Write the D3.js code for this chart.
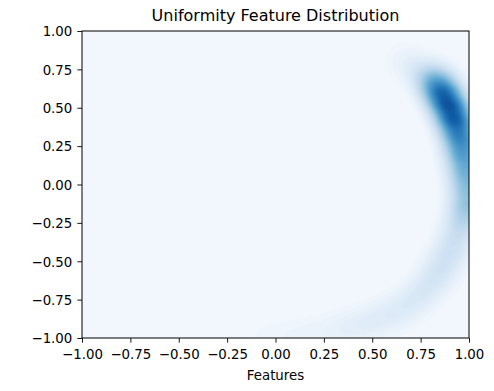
<!DOCTYPE html>
<html>
<head>
<meta charset="utf-8">
<script src="https://cdn.jsdelivr.net/npm/d3@7"></script>
<style>
  body { margin: 0; background: #fff; }
  text { font-family: "DejaVu Sans", sans-serif; fill: #000; }
</style>
</head>
<body>
<div id="chart"></div>
<script>

////////// DATA //////////

// feature points along the arc (x, y) and how much weight sits at each
var featureX = [0.669, 0.773, 0.835, 0.876, 0.912, 0.943, 0.969, 0.990, 1.000, 0.980,
                0.953, 0.920, 0.876, 0.830, 0.773, 0.710, 0.643, 0.570, 0.488, 0.410,
                0.333, 0.230, 0.127, 0.020, -0.080];
var featureY = [0.798, 0.713, 0.648, 0.570, 0.472, 0.368, 0.225, 0.062, -0.100, -0.200,
                -0.296, -0.400, -0.505, -0.600, -0.687, -0.760, -0.818, -0.860, -0.896, -0.925,
                -0.948, -0.970, -0.987, -0.995, -1.000];
var featureWeight = [1.5, 3.5, 10, 12, 13, 13, 13, 11, 7.5, 4.5,
                     3, 3, 3, 2.5, 2.2, 1.8, 1.6, 1.5, 1.4, 1.2,
                     1.1, 0.9, 0.8, 0.6, 0.4];

var xTicks = [-1, -0.75, -0.5, -0.25, 0, 0.25, 0.5, 0.75, 1];
var yTicks = [-1, -0.75, -0.5, -0.25, 0, 0.25, 0.5, 0.75, 1];

var titleText = "Uniformity Feature Distribution";
var xLabel = "Features";


////////// SETUP //////////

var width = 494, height = 391;
var margin = {top: 31, right: 25, bottom: 53, left: 82};
var plotW = width - margin.left - margin.right;
var plotH = height - margin.top - margin.bottom;

var x = d3.scaleLinear().domain([-1, 1]).range([0, plotW]);
var y = d3.scaleLinear().domain([-1, 1]).range([plotH, 0]);

var svg = d3.select("#chart")
  .append("svg")
  .attr("width", width)
  .attr("height", height);

var g = svg.append("g")
  .attr("transform", "translate(" + margin.left + "," + margin.top + ")");

g.append("clipPath")
  .attr("id", "plot-clip")
  .append("rect")
  .attr("width", plotW)
  .attr("height", plotH);


////////// DENSITY //////////

// density is estimated on its own grid; y gets fewer grid units per data unit
// so the kernel is a bit taller than wide, like the reference's
var gridX = 200, gridY = 160;
var points = featureX.map(function(fx, i) {
  return {gx: (fx + 1) * gridX, gy: (1 - featureY[i]) * gridY, w: featureWeight[i]};
});

var density = d3.contourDensity()
  .x(function(d) { return d.gx; })
  .y(function(d) { return d.gy; })
  .weight(function(d) { return d.w; })
  .size([2 * gridX, 2 * gridY])
  .cellSize(2)
  .bandwidth(12);

var contourAt = density.contours(points);
var nLevels = 50;
var levels = d3.range(1, nLevels).map(function(i) { return contourAt.max * i / nLevels; });

var toPixels = d3.geoTransform({
  point: function(px, py) {
    this.stream.point(x(px / gridX - 1), y(1 - py / gridY));
  }
});
var path = d3.geoPath(toPixels);

var colour = function(i) { return d3.interpolateBlues(0.03 + 0.85 * i / nLevels); };

var kde = g.append("g").attr("clip-path", "url(#plot-clip)");

kde.append("rect")
  .attr("width", plotW)
  .attr("height", plotH)
  .attr("fill", colour(0));

kde.selectAll("path")
  .data(levels)
  .enter()
  .append("path")
  .attr("d", function(v) { return path(contourAt(v)); })
  .attr("fill", function(v, i) { return colour(i + 1); })
  .attr("stroke", function(v, i) { return colour(i + 1); })
  .attr("stroke-width", 0.3);


////////// AXES //////////

var fmt = d3.format(".2f");

var xAxis = g.append("g")
  .attr("transform", "translate(0," + plotH + ")")
  .call(d3.axisBottom(x).tickValues(xTicks).tickFormat(fmt).tickSize(4.7).tickPadding(5).tickSizeOuter(0));

var yAxis = g.append("g")
  .call(d3.axisLeft(y).tickValues(yTicks).tickFormat(fmt).tickSize(4.7).tickPadding(5).tickSizeOuter(0));

[xAxis, yAxis].forEach(function(ax) {
  ax.select(".domain").remove();
  ax.selectAll(".tick line").attr("stroke", "#000").attr("stroke-width", 0.9);
  ax.selectAll(".tick text")
    .attr("font-family", "DejaVu Sans")
    .attr("font-size", "13.33px")
    .attr("fill", "#000");
});

xAxis.selectAll(".tick text").attr("dy", null).attr("y", 20.5);
yAxis.selectAll(".tick text").attr("dy", "0.36em");

g.append("rect")
  .attr("width", plotW)
  .attr("height", plotH)
  .attr("fill", "none")
  .attr("stroke", "#000")
  .attr("stroke-width", 1);

svg.append("text")
  .attr("x", margin.left + plotW / 2)
  .attr("y", 20.5)
  .attr("text-anchor", "middle")
  .attr("font-size", "16px")
  .text(titleText);

svg.append("text")
  .attr("x", margin.left + plotW / 2)
  .attr("y", 379.5)
  .attr("text-anchor", "middle")
  .attr("font-size", "13.33px")
  .text(xLabel);

</script>
</body>
</html>
